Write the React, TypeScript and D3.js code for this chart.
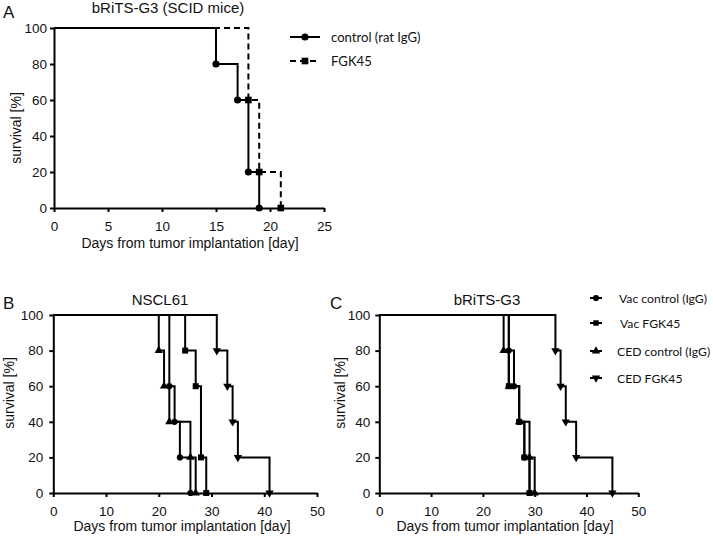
import React, { useEffect, useRef } from "react";
import * as d3 from "d3";

// ---------- data ----------
const yTicks = [0, 20, 40, 60, 80, 100];
const xTicksA = [0, 5, 10, 15, 20, 25];
const xTicksBC = [0, 10, 20, 30, 40, 50];

// Panel A: bRiTS-G3 (SCID mice)
const aControlDays = [15, 17, 18, 19];
const aControlSurv = [80, 60, 20, 0];
const aFgkDays = [18, 19, 21];
const aFgkSurv = [60, 20, 0];

// Panel B: NSCL61
const bVacCtrlDays = [22, 23, 24, 26];
const bVacCtrlSurv = [60, 40, 20, 0];
const bVacFgkDays = [25, 27, 28, 29];
const bVacFgkSurv = [80, 60, 20, 0];
const bCedCtrlDays = [20, 21, 22, 26, 27];
const bCedCtrlSurv = [80, 60, 40, 20, 0];
const bCedFgkDays = [31, 33, 34, 35, 41];
const bCedFgkSurv = [80, 60, 40, 20, 0];

// Panel C: bRiTS-G3
const cVacCtrlDays = [25, 26, 27, 28, 29];
const cVacCtrlSurv = [80, 60, 40, 20, 0];
const cVacFgkDays = [25, 27, 28, 29];
const cVacFgkSurv = [60, 40, 20, 0];
const cCedCtrlDays = [24, 25, 27, 29, 30];
const cCedCtrlSurv = [80, 60, 40, 20, 0];
const cCedFgkDays = [34, 35, 36, 38, 45];
const cCedFgkSurv = [80, 60, 40, 20, 0];

const legendA = ["control (rat IgG)", "FGK45"];
const legendBC = ["Vac control (IgG)", "Vac FGK45", "CED control (IgG)", "CED FGK45"];

const AXIS_FONT = "'Liberation Sans', Arial, sans-serif";
const LEG_FONT = "Lato, 'Open Sans', sans-serif";

type Sym = "circle" | "square" | "triangle" | "triangleDown";

function symPath(kind: Sym, size: number) {
  const t =
    kind === "circle"
      ? d3.symbolCircle
      : kind === "square"
      ? d3.symbolSquare
      : d3.symbolTriangle;
  return d3.symbol().type(t).size(size)() as string;
}

function Marker({ x, y, kind, size }: { x: number; y: number; kind: Sym; size: number }) {
  const rot = kind === "triangleDown" ? " rotate(180)" : "";
  return <path d={symPath(kind, size)} transform={`translate(${x},${y})${rot}`} fill="#000" />;
}

function Axis({
  scale,
  orient,
  ticks,
  transform,
  padding,
}: {
  scale: any;
  orient: "left" | "bottom";
  ticks: number[];
  transform: string;
  padding: number;
}) {
  const ref = useRef<SVGGElement>(null);
  useEffect(() => {
    const ax = (orient === "left" ? d3.axisLeft(scale) : d3.axisBottom(scale))
      .tickValues(ticks)
      .tickSize(4)
      .tickSizeOuter(0)
      .tickPadding(padding)
      .tickFormat(d3.format("d") as any);
    const g = d3.select(ref.current!);
    g.call(ax as any);
    g.selectAll("path.domain").attr("stroke", "#000").attr("stroke-width", 2);
    g.selectAll(".tick line").attr("stroke", "#000").attr("stroke-width", 2);
    g.selectAll(".tick text")
      .attr("fill", "#111")
      .style("font-family", AXIS_FONT)
      .style("font-size", "13.5px");
    g.attr("font-family", null).attr("font-size", null);
  }, [scale, orient, ticks, padding]);
  return <g ref={ref} transform={transform} />;
}

type Series = { days: number[]; surv: number[]; kind: Sym; dash?: string };

function Panel({
  x0,
  x1,
  y0,
  y1,
  xMax,
  xTicks,
  series,
  markerSize,
  yPad,
  title,
  titleX,
  titleY,
  letter,
  letterX,
  letterY,
  ylabX,
  ylabY,
  xlabX,
  xlabY,
}: any) {
  const x = d3.scaleLinear().domain([0, xMax]).range([x0, x1]);
  const y = d3.scaleLinear().domain([0, 100]).range([y1, y0]);
  const line = d3
    .line<[number, number]>()
    .x((d) => x(d[0]))
    .y((d) => y(d[1]))
    .curve(d3.curveStepAfter);
  return (
    <g>
      {series.map((s: Series, i: number) => {
        const pts: [number, number][] = [[0, 100], ...s.days.map((d, j) => [d, s.surv[j]] as [number, number])];
        return (
          <path
            key={"l" + i}
            d={line(pts) as string}
            fill="none"
            stroke="#000"
            strokeWidth={2}
            strokeDasharray={s.dash || undefined}
          />
        );
      })}
      {series.map((s: Series, i: number) =>
        s.days.map((d, j) => (
          <Marker key={`m${i}-${j}`} x={x(d)} y={y(s.surv[j])} kind={s.kind} size={markerSize[s.kind]} />
        ))
      )}
      <Axis scale={y} orient="left" ticks={yTicks} transform={`translate(${x0},0)`} padding={yPad} />
      <Axis scale={x} orient="bottom" ticks={xTicks} transform={`translate(0,${y1})`} padding={9.5} />
      <text x={titleX} y={titleY} textAnchor="middle" fontFamily={AXIS_FONT} fontSize={15} fill="#111">
        {title}
      </text>
      <text x={letterX} y={letterY} fontFamily={AXIS_FONT} fontSize={17} fill="#111">
        {letter}
      </text>
      <text
        transform={`translate(${ylabX},${ylabY}) rotate(-90)`}
        textAnchor="middle"
        dominantBaseline="central"
        fontFamily={AXIS_FONT}
        fontSize={14}
        fill="#111"
      >
        survival [%]
      </text>
      <text x={xlabX} y={xlabY} textAnchor="middle" fontFamily={AXIS_FONT} fontSize={14} fill="#111">
        Days from tumor implantation [day]
      </text>
    </g>
  );
}

export default function App() {
  const sizesA = { circle: 40, square: 44, triangle: 30, triangleDown: 30 };
  const sizesBC = { circle: 30, square: 36, triangle: 30, triangleDown: 30 };

  const seriesA: Series[] = [
    { days: aFgkDays, surv: aFgkSurv, kind: "square", dash: "6,4" },
    { days: aControlDays, surv: aControlSurv, kind: "circle" },
  ];
  const seriesB: Series[] = [
    { days: bVacCtrlDays, surv: bVacCtrlSurv, kind: "circle" },
    { days: bVacFgkDays, surv: bVacFgkSurv, kind: "square" },
    { days: bCedCtrlDays, surv: bCedCtrlSurv, kind: "triangle" },
    { days: bCedFgkDays, surv: bCedFgkSurv, kind: "triangleDown" },
  ];
  const seriesC: Series[] = [
    { days: cVacCtrlDays, surv: cVacCtrlSurv, kind: "circle" },
    { days: cVacFgkDays, surv: cVacFgkSurv, kind: "square" },
    { days: cCedCtrlDays, surv: cCedCtrlSurv, kind: "triangle" },
    { days: cCedFgkDays, surv: cCedFgkSurv, kind: "triangleDown" },
  ];
  const legKinds: Sym[] = ["circle", "square", "triangle", "triangleDown"];
  const legCY = [298, 323, 351, 378];
  const legTX = [619, 620, 617, 617];

  return (
    <svg
      width={713}
      height={538}
      style={{ position: "absolute", left: 0, top: 0, background: "#fff" }}
    >
      <rect width={713} height={538} fill="#fff" />
      <Panel
        x0={54} x1={324} y0={28} y1={208} xMax={25} xTicks={xTicksA}
        series={seriesA} markerSize={sizesA} yPad={3}
        title="bRiTS-G3 (SCID mice)" titleX={168} titleY={13}
        letter="A" letterX={3} letterY={18}
        ylabX={16} ylabY={128} xlabX={190} xlabY={248}
      />
      <Panel
        x0={53.3} x1={317} y0={315} y1={493} xMax={50} xTicks={xTicksBC}
        series={seriesB} markerSize={sizesBC} yPad={6}
        title="NSCL61" titleX={160} titleY={305}
        letter="B" letterX={3} letterY={309}
        ylabX={9} ylabY={393} xlabX={182} xlabY={531}
      />
      <Panel
        x0={379.3} x1={638.3} y0={315} y1={493} xMax={50} xTicks={xTicksBC}
        series={seriesC} markerSize={sizesBC} yPad={5}
        title="bRiTS-G3" titleX={487} titleY={305}
        letter="C" letterX={330} letterY={309}
        ylabX={340} ylabY={393} xlabX={505} xlabY={531}
      />
      {/* Legend A */}
      {legendA.map((t, i) => {
        const cy = 37 + i * 24;
        return (
          <g key={"la" + i}>
            <line x1={290} x2={320} y1={cy} y2={cy} stroke="#000" strokeWidth={2} strokeDasharray={i === 1 ? "6,4" : undefined} />
            <Marker x={305} y={cy} kind={i === 0 ? "circle" : "square"} size={i === 0 ? 40 : 44} />
            <text x={331} y={cy} dominantBaseline="central" fontFamily={LEG_FONT} fontSize={13.1} fill="#111">
              {t}
            </text>
          </g>
        );
      })}
      {/* Legend B/C */}
      {legendBC.map((t, i) => (
        <g key={"lb" + i}>
          <line x1={590} x2={602} y1={legCY[i]} y2={legCY[i]} stroke="#000" strokeWidth={2} />
          <Marker x={596} y={legCY[i]} kind={legKinds[i]} size={30} />
          <text x={legTX[i]} y={legCY[i]} dominantBaseline="central" fontFamily={LEG_FONT} fontSize={12.2} fill="#111">
            {t}
          </text>
        </g>
      ))}
    </svg>
  );
}
